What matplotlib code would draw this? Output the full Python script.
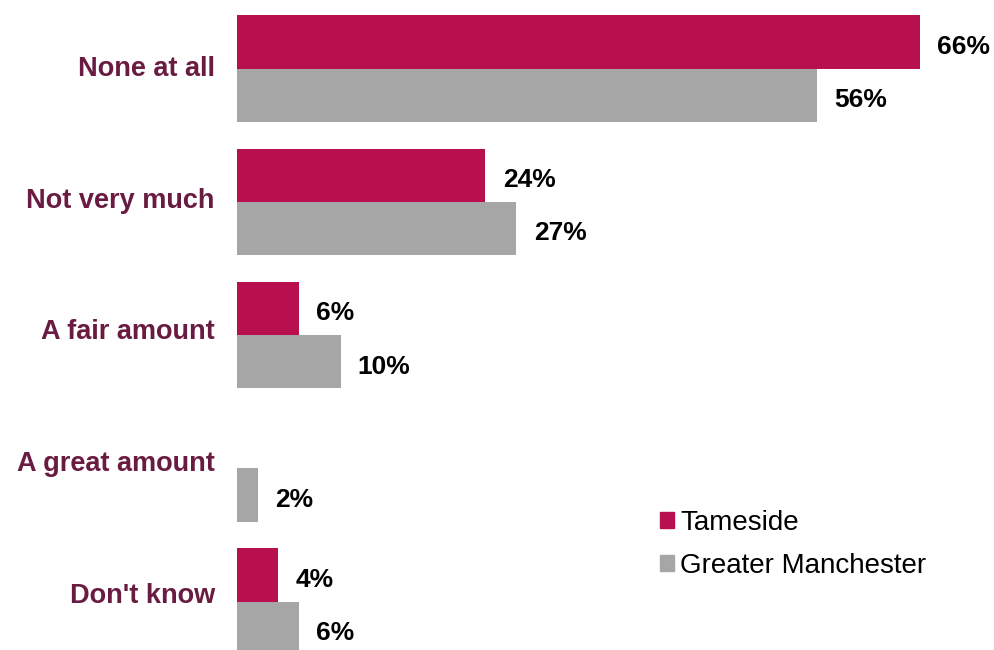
import matplotlib.pyplot as plt
from matplotlib.patches import Patch

plt.rcParams['font.family'] = ['Liberation Sans', 'DejaVu Sans']

categories = ['None at all', 'Not very much', 'A fair amount', 'A great amount', "Don't know"]
tameside = [66, 24, 6, None, 4]
greater_manchester = [56, 27, 10, 2, 6]
series_names = ['Tameside', 'Greater Manchester']

col_t = '#B80F4E'
col_gm = '#A6A6A6'
col_cat = '#6A1B41'

fig = plt.figure(figsize=(9.94, 6.5), dpi=100)
ax = fig.add_axes([237 / 994, 0, 1 - 237 / 994, 1])

h = 0.4
ypos = list(range(len(categories)))
t_vals = [v if v is not None else 0 for v in tameside]
ax.barh([y - h / 2 for y in ypos], t_vals, height=h, color=col_t)
ax.barh([y + h / 2 for y in ypos], greater_manchester, height=h, color=col_gm)

# value labels (no label for the missing Tameside value)
for y, v in zip(ypos, tameside):
    if v is not None:
        ax.annotate(f'{v}%', (v, y - h / 2), xytext=(12.5, -3.5), textcoords='offset points',
                    ha='left', va='center', fontsize=19, fontweight='bold', color='black')
for y, v in zip(ypos, greater_manchester):
    ax.annotate(f'{v}%', (v, y + h / 2), xytext=(12.5, -3.5), textcoords='offset points',
                ha='left', va='center', fontsize=19, fontweight='bold', color='black')

ax.set_xlim(0, 757 / 10.35)
ax.set_ylim(4.362, -0.514)
# category labels sit slightly above the group centres
ax.set_yticks([y - 0.02 - 0.012 * y for y in ypos])
ax.set_yticklabels(categories, fontsize=19.5, fontweight='bold', color=col_cat)
ax.tick_params(axis='y', length=0, pad=16)
ax.set_xticks([])
for s in ax.spines.values():
    s.set_visible(False)

handles = [Patch(color=col_t), Patch(color=col_gm)]
fig.legend(handles, series_names, loc='upper left', bbox_to_anchor=(635 / 994, 1 - 485 / 650),
           frameon=False, fontsize=20, handlelength=0.5, handleheight=0.5, handletextpad=0.22,
           labelspacing=0.6)

fig.savefig('out.png', dpi=100)
